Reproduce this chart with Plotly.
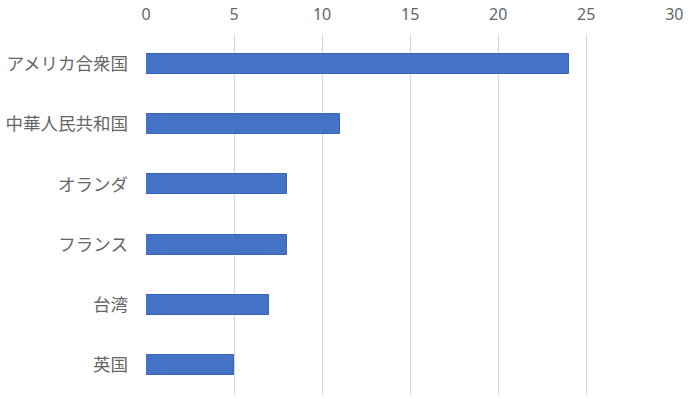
import plotly.graph_objects as go

categories = ["アメリカ合衆国", "中華人民共和国", "オランダ", "フランス", "台湾", "英国"]
values = [24, 11, 8, 8, 7, 5]
x_ticks = [0, 5, 10, 15, 20, 25, 30]

fig = go.Figure(go.Bar(
    x=values,
    y=categories,
    orientation="h",
    width=0.33,
    marker=dict(color="#4472C4", line=dict(color="#3A65B5", width=1)),
))

fig.update_layout(
    width=688, height=399,
    margin=dict(l=146, r=13, t=34, b=4),
    paper_bgcolor="white",
    plot_bgcolor="white",
    showlegend=False,
    font=dict(family="Noto Sans CJK JP", size=16, color="#666666"),
    bargap=0,
)
fig.update_xaxes(
    side="top",
    range=[0, 30.04],
    tickvals=x_ticks,
    ticktext=[str(t) for t in x_ticks],
    showgrid=True, gridcolor="#D9D9D9", gridwidth=1,
    zeroline=False, showline=False,
    ticks="", ticklen=0,
    automargin=False,
    ticklabelstandoff=10,
    tickfont=dict(family="Noto Sans", size=16, color="#666666"),
)
fig.update_yaxes(
    categoryorder="array",
    categoryarray=categories[::-1],
    showgrid=False, zeroline=False, showline=False,
    ticks="", ticklabelstandoff=17,
    automargin=False,
    tickfont=dict(size=17.5, color="#666666"),
)

fig.write_html(
    "out.html",
    config={"displayModeBar": False},
    post_script="document.body.style.margin='0';document.body.style.padding='0';",
)
